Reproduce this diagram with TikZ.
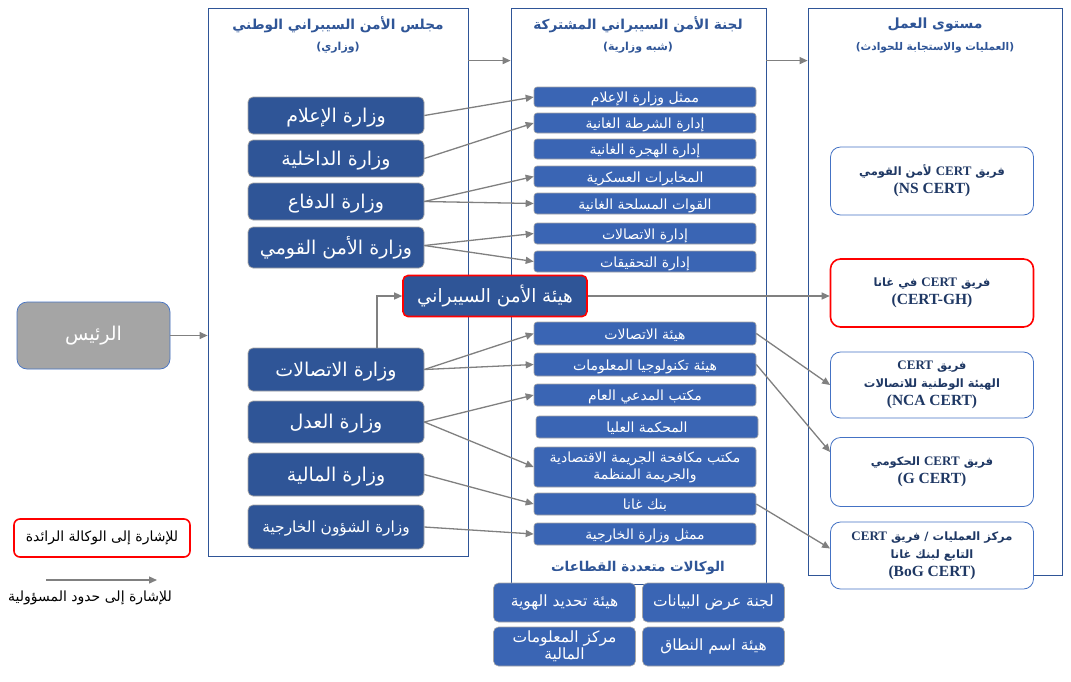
\documentclass[tikz,border=0pt]{standalone}
\usepackage{fontspec}
\setmainfont{Liberation Serif}
\newfontfamily\arabicfont[Script=Arabic]{DejaVu Sans}
\TeXXeTstate=1
\usetikzlibrary{calc,arrows.meta}
\newcommand{\artxt}[1]{{\arabicfont\beginR #1\endR}}
\newcommand{\lat}[1]{\beginL{\rmfamily #1}\endL{}}
\definecolor{minblue}{HTML}{2F5597}
\definecolor{midblue}{HTML}{3A65B4}
\definecolor{titleblue}{HTML}{2F5597}
\definecolor{certtext}{HTML}{1F3864}
\definecolor{certborder}{HTML}{4472C4}
\definecolor{arrgray}{HTML}{808080}
\definecolor{presgray}{HTML}{A5A5A5}
\pgfdeclarelayer{bg}
\pgfsetlayers{bg,main}
\tikzset{
  panel/.style={draw=minblue, line width=0.8pt, rectangle, inner sep=0pt},
  minbox/.style={draw=gray!70, fill=minblue, rounded corners=5pt, text=white, inner sep=0pt, line width=0.7pt, minimum width=176pt, font=\fontsize{19}{22}\selectfont, text height=15pt, text depth=2pt},
  midbox/.style={draw=gray!70, fill=midblue, rounded corners=3pt, text=white, inner sep=0pt, line width=0.6pt, minimum width=222pt, font=\fontsize{14}{16}\selectfont, text height=12pt, text depth=1pt},
  botbox/.style={draw=gray!70, fill=midblue, rounded corners=5pt, text=white, inner sep=0pt, line width=0.6pt, minimum width=142pt, minimum height=39pt, font=\fontsize{15.5}{17}\selectfont, align=center},
  certbox/.style={draw=certborder, fill=white, rounded corners=10pt, text=certtext, inner sep=0pt, line width=0.8pt, minimum width=203pt, font=\bfseries\fontsize{11.5}{18}\selectfont, align=center},
  redbox/.style={draw=red, line width=1.6pt},
  titletext/.style={text=titleblue, font=\bfseries\fontsize{13.7}{16}\selectfont, inner sep=0pt},
  subtext/.style={text=titleblue, font=\bfseries\fontsize{11}{13}\selectfont, inner sep=0pt},
  arr/.style={draw=arrgray, line width=1.3pt, -{Triangle[length=8pt,width=7pt]}},
}
\newcommand{\certlat}[1]{{\fontsize{15.5}{18}\selectfont #1}}
\newcommand{\certword}{\lat{\fontsize{13}{18}\selectfont CERT}}
\begin{document}
\begin{tikzpicture}[x=1pt,y=-1pt]
\useasboundingbox[fill=white] (0,0) rectangle (1071,681);

% panels
\node[panel, minimum width=260pt, minimum height=548pt] (panelL) at (338,282) {};
\node[panel, minimum width=255pt, minimum height=576pt] (panelM) at (638.5,296) {};
\node[panel, minimum width=254pt, minimum height=567pt] (panelR) at (935,291.5) {};

% titles
\node[titletext] (tL) at (338,25) {\artxt{مجلس الأمن السيبراني الوطني}};
\node[subtext] (sL) at (338,48) {\artxt{(وزاري)}};
\node[titletext] (tM) at (638,25) {\artxt{لجنة الأمن السيبراني المشتركة}};
\node[subtext] (sM) at (638,48) {\artxt{(شبه وزارية)}};
\node[titletext, font=\bfseries\fontsize{14}{16}\selectfont] (tR) at (935,25) {\artxt{مستوى العمل}};
\node[subtext, font=\bfseries\fontsize{10.6}{13}\selectfont] (sR) at (935,48) {\artxt{(العمليات والاستجابة للحوادث)}};

% president
\node[draw=certborder, fill=presgray, rounded corners=10pt, text=white, minimum width=153pt, minimum height=67pt, inner sep=0pt, line width=0.7pt, font=\fontsize{19}{22}\selectfont] (pres) at (93.5,335.5) {\artxt{الرئيس}};

% ministries
\node[minbox, minimum height=37pt] (mInfo) at (336,115.5) {\artxt{وزارة الإعلام}};
\node[minbox, minimum height=37pt] (mInt) at (336,158.5) {\artxt{وزارة الداخلية}};
\node[minbox, minimum height=37pt] (mDef) at (336,201.5) {\artxt{وزارة الدفاع}};
\node[minbox, minimum height=41pt] (mNS) at (336,247.5) {\artxt{وزارة الأمن القومي}};
\node[minbox, minimum height=43pt] (mCom) at (336,369.5) {\artxt{وزارة الاتصالات}};
\node[minbox, minimum height=42pt] (mJus) at (336,422) {\artxt{وزارة العدل}};
\node[minbox, minimum height=43pt] (mFin) at (336,474.5) {\artxt{وزارة المالية}};
\node[minbox, minimum height=44pt, font=\fontsize{15.4}{18}\selectfont, text height=12pt, text depth=2pt] (mFor) at (336,527) {\artxt{وزارة الشؤون الخارجية}};

% cyber security authority
\node[minbox, redbox, minimum width=184pt, minimum height=41pt, font=\fontsize{18.4}{21}\selectfont] (cyb) at (495,296) {\artxt{هيئة الأمن السيبراني}};

% middle boxes
\node[midbox, minimum height=20pt] (c1) at (645,97) {\artxt{ممثل وزارة الإعلام}};
\node[midbox, minimum height=20pt] (c2) at (645,123) {\artxt{إدارة الشرطة الغانية}};
\node[midbox, minimum height=20pt] (c3) at (645,149) {\artxt{إدارة الهجرة الغانية}};
\node[midbox, minimum height=21pt] (c4) at (645,176.5) {\artxt{المخابرات العسكرية}};
\node[midbox, minimum height=21pt] (c5) at (645,203.5) {\artxt{القوات المسلحة الغانية}};
\node[midbox, minimum height=21pt] (c6) at (645,233.5) {\artxt{إدارة الاتصالات}};
\node[midbox, minimum height=21pt] (c7) at (645,261.5) {\artxt{إدارة التحقيقات}};
\node[midbox, minimum height=23pt] (c8) at (645,333.5) {\artxt{هيئة الاتصالات}};
\node[midbox, minimum height=23pt] (c9) at (645,364.5) {\artxt{هيئة تكنولوجيا المعلومات}};
\node[midbox, minimum height=22pt] (c10) at (645,395) {\artxt{مكتب المدعي العام}};
\node[midbox, minimum height=22pt] (c11) at (647,427) {\artxt{المحكمة العليا}};
\node[midbox, minimum height=40pt, text height=, text depth=, align=center, font=\fontsize{14}{17}\selectfont] (c12) at (645,467) {\artxt{مكتب مكافحة الجريمة الاقتصادية}\\\artxt{والجريمة المنظمة}};
\node[midbox, minimum height=22pt] (c13) at (645,504) {\artxt{بنك غانا}};
\node[midbox, minimum height=22pt] (c14) at (645,534) {\artxt{ممثل وزارة الخارجية}};

% multi-sector agencies
\node[titletext, font=\bfseries\fontsize{13.5}{16}\selectfont] (tB) at (638,568) {\artxt{الوكالات متعددة القطاعات}};
\node[botbox] (b1) at (564.5,602.5) {\artxt{هيئة تحديد الهوية}};
\node[botbox] (b2) at (713.5,602.5) {\artxt{لجنة عرض البيانات}};
\node[botbox, font=\fontsize{15.5}{17}\selectfont] (b3) at (564.5,646.5) {\artxt{مركز المعلومات}\\\artxt{المالية}};
\node[botbox] (b4) at (713.5,646.5) {\artxt{هيئة اسم النطاق}};

% CERT boxes
\node[certbox, minimum height=68pt] (r1) at (932,181) {\artxt{فريق \certword{} لأمن القومي}\\\certlat{(NS CERT)}};
\node[certbox, redbox, minimum height=68pt] (r2) at (932,293) {\artxt{فريق \certword{} في غانا}\\\certlat{(CERT-GH)}};
\node[certbox, minimum height=66pt] (r3) at (932,385) {\artxt{فريق \certword}\\\artxt{الهيئة الوطنية للاتصالات}\\\certlat{(NCA CERT)}};
\node[certbox, minimum height=69pt] (r4) at (932,472) {\artxt{فريق \certword{} الحكومي}\\\certlat{(G CERT)}};
\node[certbox, minimum height=67pt] (r5) at (932,555.5) {\artxt{مركز العمليات / فريق \certword}\\\artxt{التابع لبنك غانا}\\\certlat{(B\textsc{o}G CERT)}};

% legend
\node[redbox, rounded corners=6pt, fill=white, minimum width=176pt, minimum height=38pt, inner sep=0pt, font=\fontsize{14}{16}\selectfont] (legR) at (102,538) {\artxt{للإشارة إلى الوكالة الرائدة}};
\coordinate (legA1) at (46,580);
\coordinate (legA2) at (157,580);
\node[inner sep=0pt, font=\fontsize{14}{16}\selectfont] (legT) at (90,598) {\artxt{للإشارة إلى حدود المسؤولية}};

% connectors
\begin{pgfonlayer}{bg}
\draw[arr] ($(mNS.east)+(0,-12)$) -- (r1.west);
\end{pgfonlayer}
\draw[arr] ($(panelL.north east)+(0,53)$) -- ($(panelM.north west)+(0,53)$);
\draw[arr] ($(panelM.north east)+(0,53)$) -- ($(panelR.north west)+(0,53)$);
\draw[arr] (pres.east) -- (pres.east -| panelL.west);
\draw[arr] (mInfo.east) -- (c1.west);
\draw[arr] (mInt.east) -- (c2.west);
\draw[arr] (mDef.east) -- (c4.west);
\draw[arr] (mDef.east) -- (c5.west);
\draw[arr] ($(mNS.east)+(0,-2)$) -- (c6.west);
\draw[arr] ($(mNS.east)+(0,-2)$) -- (c7.west);
\draw[arr] (mCom.east) -- (c8.west);
\draw[arr] (mCom.east) -- (c9.west);
\draw[arr] (mJus.east) -- (c10.west);
\draw[arr] (mJus.east) -- (c12.west);
\draw[arr] (mFin.east) -- (c13.west);
\draw[arr] (mFor.east) -- (c14.west);
\draw[arr] ($(mCom.north)+(41,0)$) |- (cyb.west);
\draw[arr] (cyb.east) -- (cyb.east -| r2.west);
\draw[arr] (c8.east) -- (r3.west);
\draw[arr] (c9.east) -- ($(r4.west)+(0,-20)$);
\draw[arr] (c13.east) -- ($(r5.west)+(0,-7)$);
\draw[arr] (legA1) -- (legA2);
\end{tikzpicture}
\end{document}
